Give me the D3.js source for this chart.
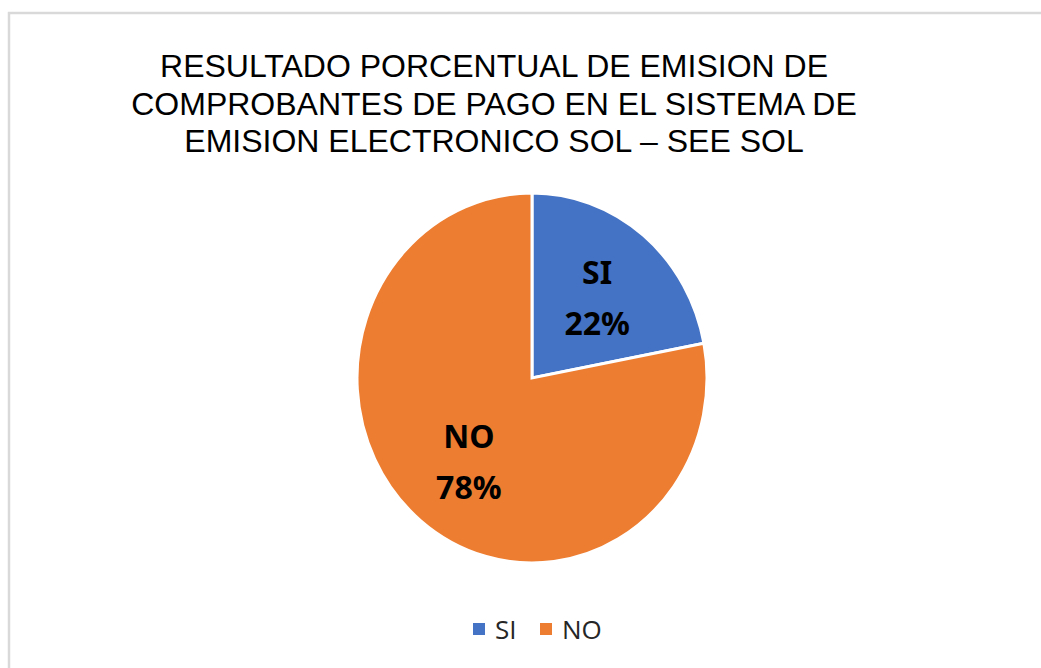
<!DOCTYPE html>
<html>
<head>
<meta charset="utf-8">
<script src="https://cdn.jsdelivr.net/npm/d3@7.9.0/dist/d3.min.js"></script>
<style>
  body { margin: 0; background: #fff; }
  svg { display: block; }
</style>
</head>
<body>
<svg id="chart" width="1041" height="668"></svg>
<script>
// data
const categories = ['SI', 'NO'];
const values = [22, 78];
const colorsList = ['#4472C4', '#ED7D31'];
const titleLines = [
  'RESULTADO PORCENTUAL DE EMISION DE',
  'COMPROBANTES DE PAGO EN EL SISTEMA DE',
  'EMISION ELECTRONICO SOL \u2013 SEE SOL'
];

const svg = d3.select('#chart');
const data = categories.map((c, i) => ({ label: c, value: values[i] }));
const color = d3.scaleOrdinal().domain(categories).range(colorsList);

// chart area border (only top/left visible in frame)
svg.append('rect')
  .attr('x', 9).attr('y', 13)
  .attr('width', 1060).attr('height', 700)
  .attr('fill', '#fff')
  .attr('stroke', '#d9d9d9')
  .attr('stroke-width', 2.5);

// title
svg.append('text')
  .attr('font-family', '"Liberation Sans", Arial, sans-serif')
  .attr('font-size', 32)
  .attr('fill', '#000')
  .attr('text-anchor', 'middle')
  .selectAll('tspan')
  .data(titleLines)
  .join('tspan')
  .attr('x', 494)
  .attr('y', (d, i) => 77 + i * 37.5)
  .attr('textLength', null)
  .text(d => d);

// pie
const cx = 532, cy = 378, r = 175, sy = 185 / 175;
const pie = d3.pie().value(d => d.value).sort(null);
const arc = d3.arc().innerRadius(0).outerRadius(r);
const labelArc = d3.arc().innerRadius(0).outerRadius(r * 1.15);
const arcs = pie(data);

svg.append('g')
  .attr('transform', `translate(${cx},${cy}) scale(1,${sy})`)
  .selectAll('path')
  .data(arcs)
  .join('path')
  .attr('d', arc)
  .attr('fill', d => color(d.data.label))
  .attr('stroke', '#fff')
  .attr('stroke-width', 3)
  .attr('vector-effect', 'non-scaling-stroke');

// slice labels
const labels = svg.append('g')
  .attr('transform', `translate(${cx},${cy})`)
  .selectAll('text')
  .data(arcs)
  .join('text')
  .attr('font-family', '"Noto Sans", "Open Sans", sans-serif')
  .attr('font-weight', 'bold')
  .attr('font-size', 32)
  .attr('fill', '#000')
  .attr('text-anchor', 'middle')
  .attr('transform', d => {
    const [x, y] = labelArc.centroid(d);
    return `translate(${x + 1},${y * sy})`;
  });
labels.append('tspan').attr('x', 0).attr('y', -12).text(d => d.data.label);
labels.append('tspan').attr('x', 0).attr('y', 39).text(d => d.data.value + '%');

// legend
const legend = svg.append('g')
  .attr('font-family', '"Open Sans", "Noto Sans", sans-serif')
  .attr('font-size', 26);
const legendX = d3.scalePoint().domain(categories).range([473, 540]);
const item = legend.selectAll('g')
  .data(categories)
  .join('g')
  .attr('transform', d => `translate(${legendX(d)},623)`);
item.append('rect')
  .attr('width', 12).attr('height', 12)
  .attr('fill', d => color(d));
item.append('text')
  .attr('x', 22).attr('y', 16)
  .attr('fill', '#262626')
  .text(d => d);
</script>
</body>
</html>
